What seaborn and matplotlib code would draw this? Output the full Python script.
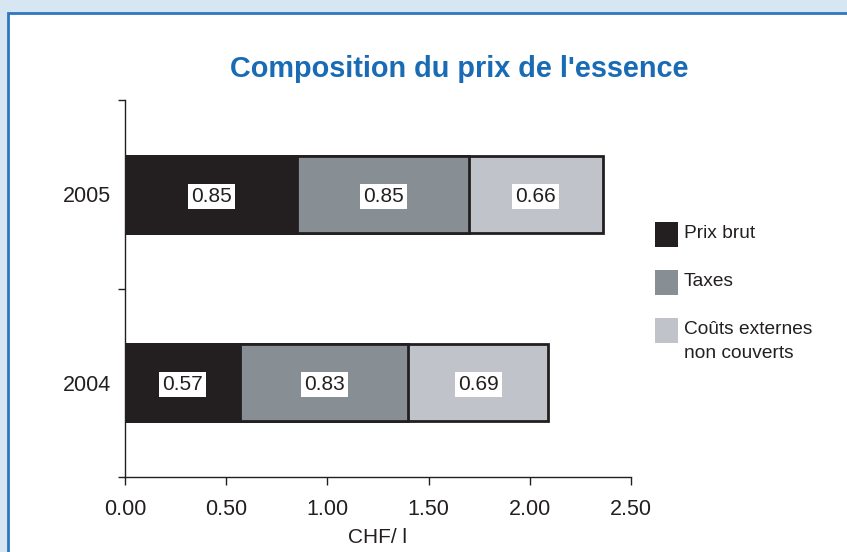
import matplotlib
matplotlib.use("Agg")
import matplotlib.pyplot as plt
import seaborn as sns
import pandas as pd
import numpy as np
from matplotlib.patches import Rectangle

years = ["2005", "2004"]
prix_brut = [0.85, 0.57]
taxes = [0.85, 0.83]
couts_externes = [0.66, 0.69]
series_names = ["Prix brut", "Taxes", "Coûts externes\nnon couverts"]
colors = ["#231f20", "#878e94", "#c0c3c9"]
xticks = [0.0, 0.5, 1.0, 1.5, 2.0, 2.5]

sns.set_style("white")
plt.rcParams["font.family"] = ["Liberation Sans", "DejaVu Sans"]

W, H = 847, 552
fig = plt.figure(figsize=(W / 100, H / 100), dpi=100)
fig.patch.set_facecolor("#d6e6f3")
panel = Rectangle((8 / W, -0.05), 1.0, 1 - 13 / H + 0.05,
                  transform=fig.transFigure, facecolor="white",
                  edgecolor="#2f78bd", linewidth=2, zorder=-10)
fig.add_artist(panel)

ax = fig.add_axes([125 / W, 1 - 477 / H, (631 - 125) / W, (477 - 100) / H])
ax.set_facecolor("none")
ax.set_zorder(5)

series = [prix_brut, taxes, couts_externes]
cum = np.cumsum(np.array(series), axis=0)
edge = "#231f20"
for i in reversed(range(3)):
    df = pd.DataFrame({"year": years, "value": cum[i]})
    sns.barplot(data=df, x="value", y="year", order=years, orient="h",
                color=colors[i], width=0.41, edgecolor=edge, linewidth=2,
                saturation=1, ax=ax)

for j, yr in enumerate(years):
    start = 0.0
    for i in range(3):
        v = series[i][j]
        ax.text(start + v / 2, j + 0.01, f"{v:.2f}", ha="center", va="center",
                fontsize=15, color="#231f20",
                bbox=dict(boxstyle="square,pad=0.15", facecolor="white", edgecolor="none"))
        start += v

ax.set_xlim(0, 2.5)
ax.set_ylim(1.5, -0.5)
ax.set_xticks(xticks)
ax.set_xticklabels([f"{t:.2f}" for t in xticks], fontsize=15.5, color="#231f20")
ax.set_yticks([0, 1])
ax.set_yticklabels(years, fontsize=15.5, color="#231f20")
ax.set_yticks([-0.5, 0.5, 1.5], minor=True)
ax.tick_params(axis="y", which="major", length=0, pad=10)
ax.tick_params(axis="y", which="minor", length=5, width=1, color="#231f20", left=True)
ax.tick_params(axis="x", length=6, width=1, color="#231f20", bottom=True, pad=10)
ax.set_xlabel("CHF/ l", fontsize=15, color="#231f20", labelpad=5.5)
ax.set_ylabel("")
for s in ["top", "right"]:
    ax.spines[s].set_visible(False)
for s in ["left", "bottom"]:
    ax.spines[s].set_color("#231f20")
    ax.spines[s].set_linewidth(1)

fig.text(459 / W, 1 - 69 / H, "Composition du prix de l'essence",
         ha="center", va="center", fontsize=20.8, fontweight="bold", color="#1a6bb5")

# legend drawn as figure patches and texts
square_tops = [222, 270, 318]
for c, name, top in zip(colors, series_names, square_tops):
    fig.add_artist(Rectangle((655 / W, 1 - (top + 25) / H), 23 / W, 25 / H,
                             transform=fig.transFigure, facecolor=c,
                             edgecolor="none", zorder=6))
    fig.text(684 / W, 1 - (top + 3) / H, name, ha="left", va="top",
             fontsize=13.8, color="#231f20", linespacing=1.55)

fig.savefig("out.png", dpi=100)
